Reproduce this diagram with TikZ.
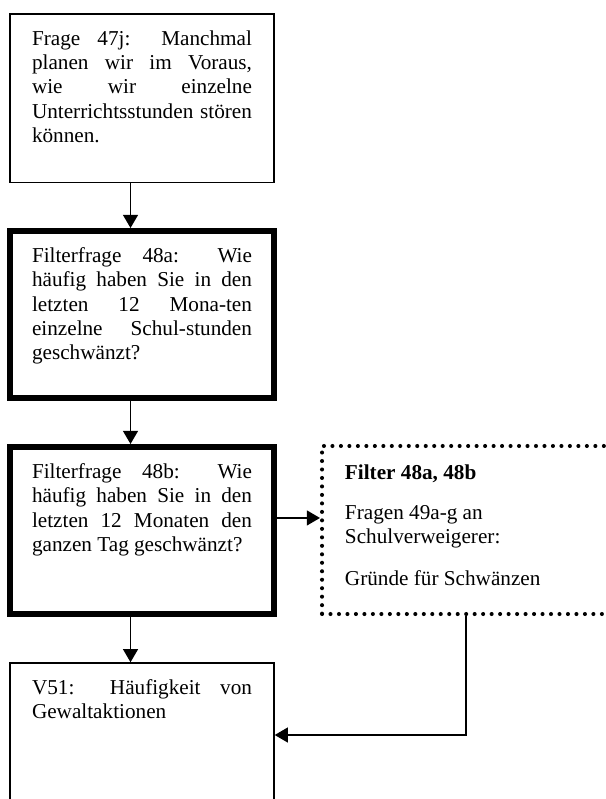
\documentclass[tikz,border=0pt]{standalone}
\usepackage{fontspec}
\setmainfont{Liberation Serif}
\usetikzlibrary{arrows.meta}

% text of a question box, top aligned
\newcommand{\boxtext}[2]{\parbox[c][#1][t]{124.5pt}{\tolerance=10000 \hyphenpenalty=10000 \exhyphenpenalty=10000 \vspace*{9.3pt}#2}}

\begin{document}
\begin{tikzpicture}[x=0.566pt, y=-0.566pt,
  qbox/.style={draw, line width=0.85pt, inner sep=0pt, minimum width=149.4pt,
    font=\fontsize{12}{13.8}\selectfont},
  filterbox/.style={qbox, line width=3.4pt},
  dotbox/.style={draw, line width=2.3pt, dash pattern=on 0pt off 4.8pt, line cap=round,
    inner sep=0pt, minimum width=202.6pt, font=\fontsize{12}{13.8}\selectfont},
  arr/.style={line width=0.85pt, -{Triangle[length=7.4pt,width=8.4pt]}}]
  \useasboundingbox (0,0) rectangle (606,799);
  \clip (0,0) rectangle (606,799);

  %% question boxes
  \node[qbox] (q47) at (142,98.2) {\boxtext{95.4pt}{Frage 47j: Manchmal\linebreak
    planen wir im Voraus,\linebreak wie wir einzelne\linebreak
    Unterrichtsstunden stören\linebreak können.}};
  \node[filterbox] (f48a) at (142,314.5) {\boxtext{94.5pt}{Filterfrage 48a: Wie\linebreak
    häufig haben Sie in den\linebreak letzten 12 Mona-ten\linebreak
    einzelne Schul-stunden\linebreak geschwänzt?}};
  \node[filterbox] (f48b) at (142,530.5) {\boxtext{94.5pt}{Filterfrage 48b: Wie\linebreak
    häufig haben Sie in den\linebreak letzten 12 Monaten den\linebreak
    ganzen Tag geschwänzt?}};
  \node[qbox] (v51) at (142,735) {\boxtext{81.5pt}{V51: Häufigkeit von\linebreak
    Gewaltaktionen}};

  % filter box
  \node[dotbox] (filt) at (501,530) {\parbox[c][95.1pt][t]{176.6pt}{\raggedright
    \vspace*{10.5pt}\textbf{Filter 48a, 48b}\par\vspace{8.8pt}
    Fragen 49a-g an\\ Schulverweigerer:\par\vspace{10pt}
    Gründe für Schwänzen}};

  %% arrows
  \draw[arr] ([xshift=-6.5pt]q47.south) -- ([xshift=-6.5pt]f48a.north);
  \draw[arr] ([xshift=-6.5pt]f48a.south) -- ([xshift=-6.5pt]f48b.north);
  \draw[arr] ([xshift=-6.5pt]f48b.south) -- ([xshift=-6.5pt]v51.north);
  \draw[arr] ([yshift=7.1pt]f48b.east) -- ([yshift=7.1pt]f48b.east -| filt.west);
  \draw[arr] ([xshift=-19.8pt]filt.south) |- (v51.east);
\end{tikzpicture}
\end{document}
